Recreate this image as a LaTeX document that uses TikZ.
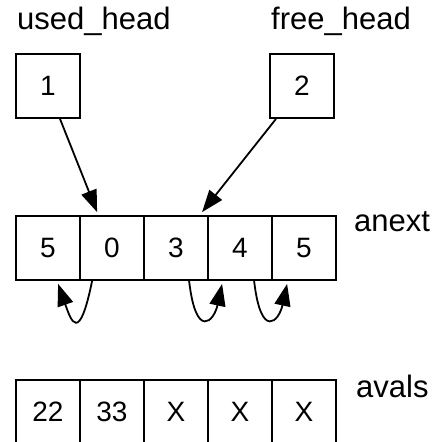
\documentclass[tikz,border=0pt]{standalone}
\usepackage{fontspec}
\setmainfont{Liberation Sans}
\usetikzlibrary{arrows.meta,calc}
\tikzset{
  cell/.style={draw, line width=1.8pt, minimum width=64pt, minimum height=64pt, inner sep=0pt, font=\fontsize{28}{30}\selectfont},
  lbl/.style={inner sep=0pt, anchor=base west, font=\fontsize{31}{33}\selectfont},
  ptr/.style={line width=1.8pt, -{Triangle[length=22pt,width=16pt]}},
}
\begin{document}
\begin{tikzpicture}[x=1pt,y=1pt]
\fill[white] (0,0) rectangle (432,442);
\useasboundingbox (0,0) rectangle (432,442);
% labels
\node[lbl] (lu) at (17,412) {used\_head};
\node[lbl] (lf) at (271,412) {free\_head};
\node[lbl] (ln) at (354,210) {anext};
\node[lbl] (lv) at (356,45) {avals};
% head boxes
\node[cell] (b1) at (48,356) {1};
\node[cell] (b2) at (302,356) {2};
% anext
\foreach \i/\t in {0/5,1/0,2/3,3/4,4/5}{
  \node[cell] (a\i) at (48+64*\i,194) {\t};
}
% avals (bottom edge cut off by the picture border)
\begin{scope}
\clip (0,0) rectangle (432,442);
\foreach \i/\t in {0/22,1/33,2/X,3/X,4/X}{
  \node[cell] (v\i) at (48+64*\i,30) {\t};
}
\end{scope}
% pointer arrows
\draw[ptr] ($(b1.south)+(12,0)$) -- ($(a1.north west)+(18,3)$);
\draw[ptr] ($(b2.south)+(-26,0)$) -- ($(a3.north west)+(-5,3)$);
% self loops
\draw[ptr] ($(a1.south west)+(13,0)$) .. controls ($(a1.south west)+(0,-64)$) and ($(a0.south west)+(56,-40)$) .. ($(a0.south west)+(43,-3)$);
\draw[ptr] ($(a2.south west)+(46,0)$) .. controls ($(a2.south west)+(53,-60)$) and ($(a3.south west)+(7,-40)$) .. ($(a3.south west)+(15,-3)$);
\draw[ptr] ($(a3.south west)+(47,0)$) .. controls ($(a3.south west)+(54,-60)$) and ($(a4.south west)+(8,-40)$) .. ($(a4.south west)+(16,-3)$);
\end{tikzpicture}
\end{document}
